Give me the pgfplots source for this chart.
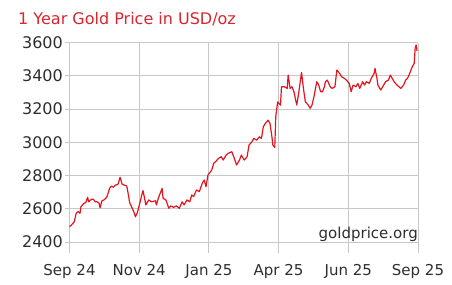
\documentclass[border=0pt]{standalone}
\usepackage{pgfplots}
\pgfplotsset{compat=1.18}
\usepackage{fontspec}
\setmainfont{DejaVu Sans}
\definecolor{goldred}{HTML}{E3141E}
\definecolor{titlered}{HTML}{D9262E}
\definecolor{gridgray}{HTML}{C8C8C8}
\definecolor{labelgray}{HTML}{2E2E2E}
\begin{document}
\begin{tikzpicture}
\useasboundingbox (-69.5pt,-31pt) rectangle (382.5pt,253pt);
\begin{axis}[
  at={(0pt,0pt)}, anchor=south west,
  width=348.5pt, height=210.5pt, scale only axis,
  xmin=0, xmax=365, ymin=2334, ymax=3600,
  xtick={0,73,146,219,292,365},
  xticklabels={Sep 24,Nov 24,Jan 25,Apr 25,Jun 25,Sep 25},
  ytick={2400,2600,2800,3000,3200,3400,3600},
  /pgf/number format/assume math mode=true,
  /pgf/number format/1000 sep={},
  grid=major,
  grid style={gridgray, line width=0.9pt},
  axis line style={draw=none},
  tick align=outside,
  major tick length=4pt,
  xtick style={draw=none},
  ytick style={gridgray, line width=0.9pt},
  ytick pos=left,
  ticklabel style={text=labelgray},
  yticklabel style={font=\fontsize{16}{18}\selectfont, anchor=east, inner sep=0pt, xshift=-2.5pt},
  xticklabel style={font=\fontsize{15}{17}\selectfont, anchor=north, inner sep=0pt, yshift=-7pt},
  clip=false,
]
\addplot[goldred, line width=1.2pt, line join=round] table {
x y
0 2492
2 2502
5 2522
7 2573
9 2583
11 2573
12 2612
15 2633
17 2637
19 2669
20 2642
23 2657
25 2657
27 2642
29 2642
31 2633
32 2606
34 2648
36 2653
39 2669
41 2703
42 2723
44 2737
46 2729
48 2743
49 2743
51 2749
53 2790
55 2749
57 2743
60 2737
62 2673
63 2637
65 2612
68 2573
69 2552
71 2576
74 2642
76 2690
77 2709
80 2623
83 2653
86 2642
90 2648
91 2623
93 2663
97 2723
98 2663
101 2653
104 2603
106 2617
109 2609
112 2617
115 2603
118 2642
120 2623
123 2653
126 2642
128 2683
130 2673
133 2713
136 2703
139 2753
141 2773
143 2733
145 2803
149 2833
151 2873
153 2883
156 2903
159 2913
161 2893
164 2923
166 2933
170 2943
172 2913
175 2863
178 2893
180 2923
183 2893
186 2913
188 2983
191 3003
193 3023
196 3013
199 3033
201 3023
203 3093
205 3113
208 3133
210 3113
212 3033
213 2983
215 2969
216 3153
218 3243
221 3223
222 3334
225 3334
228 3324
229 3404
231 3324
233 3334
235 3304
238 3224
240 3294
243 3420
245 3324
247 3244
250 3224
252 3204
254 3224
256 3274
259 3364
261 3344
263 3304
265 3304
267 3334
268 3364
270 3374
273 3334
275 3324
278 3334
280 3434
283 3414
285 3394
288 3384
290 3374
293 3354
295 3304
297 3344
300 3334
302 3354
304 3324
307 3364
309 3344
311 3364
314 3354
316 3384
319 3414
320 3444
322 3384
323 3344
326 3314
329 3344
331 3364
334 3374
336 3404
338 3384
340 3364
343 3344
345 3334
347 3324
350 3344
352 3374
354 3384
357 3424
359 3454
361 3474
362 3565
363 3585
364 3550
};
\node[anchor=base east, inner sep=0pt, text=labelgray, font=\fontsize{15}{17}\selectfont] at (axis cs:365,2424) {goldprice.org};
\end{axis}
\node[anchor=base west, inner sep=0pt, text=titlered, font=\fontsize{16}{18}\selectfont] at (-51.5pt,228pt) {1 Year Gold Price in USD/oz};
\end{tikzpicture}
\end{document}
